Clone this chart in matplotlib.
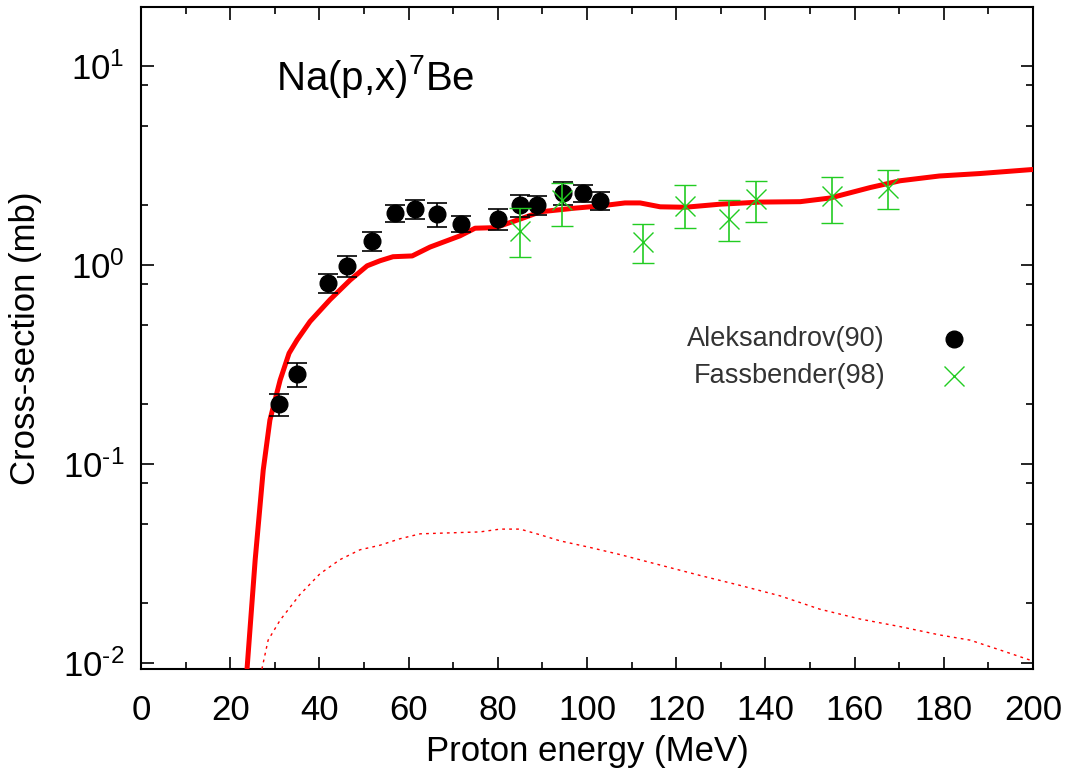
import matplotlib
matplotlib.use("Agg")
import matplotlib.pyplot as plt
import numpy as np

plt.rcParams['font.family'] = ['Liberation Sans', 'DejaVu Sans']
plt.rcParams['mathtext.fontset'] = 'custom'
plt.rcParams['mathtext.rm'] = 'Liberation Sans'
plt.rcParams['mathtext.it'] = 'Liberation Sans'

# model curves
calc_e = [23.8, 25.6, 27.4, 28.9, 31.2, 33.2, 35.0, 37.9, 42.4, 46.9, 50.7, 53.6, 56.5,
          60.8, 64.8, 71.5, 74.9, 79.4, 85.0, 89.5, 97.3, 103.0, 108.5, 111.9, 116.4,
          122.0, 129.8, 138.8, 147.8, 154.5, 163.5, 170.2, 179.0, 188.0, 200.0]
calc_xs = [0.0095, 0.033, 0.093, 0.166, 0.264, 0.36, 0.42, 0.52, 0.67, 0.84, 0.99, 1.05, 1.10,
           1.11, 1.23, 1.40, 1.53, 1.54, 1.70, 1.85, 1.93, 1.98, 2.05, 2.05, 1.96,
           1.95, 2.02, 2.07, 2.08, 2.17, 2.45, 2.65, 2.80, 2.88, 3.02]

dot_e = [27.1, 28.5, 31.2, 35.6, 40.1, 44.6, 49.1, 53.6, 58.0, 62.6, 69.3, 76.0, 80.5, 85.0,
         89.5, 94.0, 100.7, 107.4, 116.4, 125.3, 134.3, 143.3, 152.2, 161.2, 170.2, 179.1,
         185.9, 192.6, 200.0]
dot_xs = [0.0093, 0.013, 0.0164, 0.022, 0.028, 0.033, 0.037, 0.039, 0.042, 0.0445, 0.045,
          0.0455, 0.047, 0.047, 0.044, 0.041, 0.038, 0.035, 0.031, 0.0275, 0.0245, 0.0217,
          0.0186, 0.0166, 0.0152, 0.0138, 0.013, 0.0116, 0.0102]

# Aleksandrov(90)
alek_e = [30.9, 35.0, 41.9, 46.2, 51.8, 57.0, 61.4, 66.4, 71.7, 80.0, 85.0, 88.8, 94.6, 99.1, 102.9]
alek_xs = [0.20, 0.283, 0.81, 0.99, 1.32, 1.82, 1.91, 1.80, 1.61, 1.70, 2.0, 2.0, 2.30, 2.30, 2.10]
alek_err = [0.025, 0.04, 0.09, 0.12, 0.15, 0.18, 0.2, 0.25, 0.15, 0.2, 0.25, 0.22, 0.3, 0.22, 0.22]

# Fassbender(98)
fass_e = [85.0, 94.4, 112.6, 122.0, 131.8, 137.9, 155.0, 167.5]
fass_xs = [1.48, 2.12, 1.30, 1.98, 1.70, 2.15, 2.22, 2.45]
fass_lo = [0.38, 0.55, 0.28, 0.45, 0.38, 0.5, 0.6, 0.55]
fass_hi = [0.45, 0.45, 0.30, 0.55, 0.42, 0.5, 0.55, 0.55]

ytick_vals = [0.01, 0.1, 1, 10]
ytick_labels = ['$10^{\u20102}$', '$10^{\u20101}$', '$10^{0}$', '$10^{1}$']

fig = plt.figure(figsize=(10.65, 7.78), dpi=100)
ax = fig.add_axes([0.1324, 0.140, 0.8376, 0.851])

ax.plot(calc_e, calc_xs, color='#ff0000', lw=3.6, zorder=3)
ax.plot(dot_e, dot_xs, color='#ff0000', lw=1.0, ls=(0, (2, 3)), zorder=3)

ax.errorbar(alek_e, alek_xs, yerr=alek_err, fmt='o', color='black', ms=12,
            ecolor='black', elinewidth=1.2, capsize=7, capthick=1.2, zorder=4)
ax.errorbar(fass_e, fass_xs, yerr=[fass_lo, fass_hi], fmt='x', color='#22cc22', ms=15,
            mew=1.0, ecolor='#22cc22', elinewidth=1.2, capsize=8, capthick=1.2, zorder=5)

ax.set_yscale('log')
ax.set_xlim(0, 200)
ax.set_ylim(0.0093, 19.8)

ax.set_xticks(np.arange(0, 201, 20))
ax.set_xticks(np.arange(0, 201, 10), minor=True)
ax.set_yticks(ytick_vals)
ax.set_yticklabels(ytick_labels)
minor = [m * d for d in ytick_vals for m in (2, 5, 8)]
ax.set_yticks([v for v in minor if v < 19.8], minor=True)
ax.yaxis.set_minor_formatter(plt.NullFormatter())

ax.tick_params(which='both', direction='in', top=True, right=True, width=1.2)
ax.tick_params(which='major', length=9, labelsize=25, pad=12)
ax.tick_params(axis='x', which='major', pad=18)
ax.tick_params(which='minor', length=5)
for s in ax.spines.values():
    s.set_linewidth(1.5)

ax.set_xlabel('Proton energy (MeV)', fontsize=25, labelpad=6)
ax.set_ylabel('Cross-section (mb)', fontsize=25, labelpad=15)

ax.text(0.151, 0.874, r'Na(p,x)$^{7}$Be', transform=ax.transAxes, fontsize=29)

ax.text(0.834, 0.498, 'Aleksandrov(90)', transform=ax.transAxes, fontsize=19.5,
        color='#333333', ha='right', va='center')
ax.text(0.834, 0.442, 'Fassbender(98)', transform=ax.transAxes, fontsize=19.5,
        color='#333333', ha='right', va='center')
ax.plot([0.911], [0.498], 'o', color='black', ms=12, transform=ax.transAxes, clip_on=False)
ax.plot([0.911], [0.442], 'x', color='#22cc22', ms=15, mew=1.0, transform=ax.transAxes,
        clip_on=False)

fig.savefig('out.png', dpi=100)
